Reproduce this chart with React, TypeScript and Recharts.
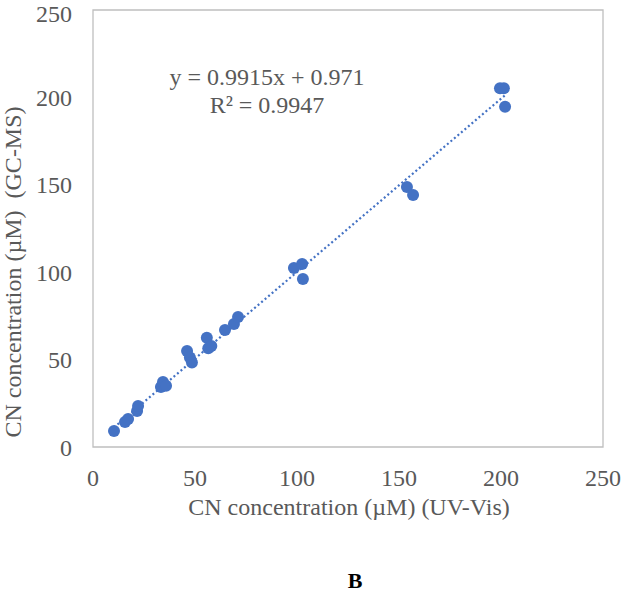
import React from 'react';
import { ScatterChart, Scatter, XAxis, YAxis, ReferenceArea } from 'recharts';

// measured pairs, UV-Vis (x) vs GC-MS (y), µM
const uvVis = [10.3, 15.7, 17.2, 21.6, 22.1, 33.3, 34.3, 35.8, 46.1, 47.5, 48.5, 55.8, 56.5, 58.0, 64.7, 69.1, 71.1, 98.5, 102.5, 102.9, 153.9, 156.9, 199.5, 201.4, 202.0];
const gcMs = [9.2, 14.3, 16.0, 20.6, 23.5, 34.3, 37.2, 35.1, 54.9, 51.2, 48.3, 62.5, 56.5, 57.8, 66.9, 70.4, 74.4, 102.4, 104.7, 96.1, 148.7, 144.1, 205.3, 205.3, 194.6];

const axisTicks = [0, 50, 100, 150, 200, 250];

// linear fit shown on the chart
const slope = 0.9915;
const intercept = 0.971;
const fitRange = [10.3, 202.0];

const points = uvVis.map((x, i) => ({ x, y: gcMs[i] }));
const fitLine = fitRange.map((x) => ({ x, y: slope * x + intercept }));

const FONT = '"Liberation Serif", "Times New Roman", serif';
const GREY = '#595959';
const BLUE = '#4472C4';

const tickStyle = { fill: GREY, fontSize: 24, fontFamily: FONT };

const App: React.FC = () => {
  return (
    <div style={{ position: 'absolute', left: 0, top: 0, width: 623, height: 595, background: '#fff' }}>
      <ScatterChart width={623} height={595} margin={{ top: 10, right: 20, bottom: 108, left: 0 }}>
        <XAxis
          type="number"
          dataKey="x"
          domain={[0, 250]}
          ticks={axisTicks}
          height={40}
          axisLine={false}
          tickLine={false}
          tickSize={0}
          tickMargin={22}
          tick={tickStyle}
        />
        <YAxis
          type="number"
          dataKey="y"
          domain={[0, 250]}
          ticks={axisTicks}
          width={93}
          axisLine={false}
          tickLine={false}
          tickSize={0}
          tickMargin={21}
          tick={tickStyle}
        />
        <ReferenceArea x1={0} x2={250} y1={0} y2={250} fill="none" stroke="#BFBFBF" strokeWidth={1.3} fillOpacity={0} />
        <Scatter
          data={fitLine}
          line={{ stroke: BLUE, strokeWidth: 2.2, strokeDasharray: '2 2.6' }}
          shape={() => null}
          isAnimationActive={false}
        />
        <Scatter data={points} fill={BLUE} shape={(p: any) => <circle cx={p.cx} cy={p.cy} r={6} fill={BLUE} />} isAnimationActive={false} />
      </ScatterChart>

      <svg width={623} height={595} style={{ position: 'absolute', left: 0, top: 0, pointerEvents: 'none' }}>
        <text x={267} y={85} textAnchor="middle" fontSize={24} fontFamily={FONT} fill={GREY}>
          y = 0.9915x + 0.971
        </text>
        <text x={267} y={113} textAnchor="middle" fontSize={24} fontFamily={FONT} fill={GREY}>
          R² = 0.9947
        </text>
        <text x={349} y={515} textAnchor="middle" fontSize={24} fontFamily={FONT} fill={GREY}>
          CN concentration (µM) (UV-Vis)
        </text>
        <text
          x={0}
          y={0}
          transform="translate(21 272) rotate(-90)"
          textAnchor="middle"
          fontSize={24}
          fontFamily={FONT}
          fill={GREY}
          style={{ whiteSpace: 'pre' }}
        >
          {'CN concentration (µM)  (GC-MS)'}
        </text>
        <text x={355} y={588} textAnchor="middle" fontSize={22} fontWeight="bold" fontFamily={FONT} fill="#000">
          B
        </text>
      </svg>
    </div>
  );
};

export default App;
